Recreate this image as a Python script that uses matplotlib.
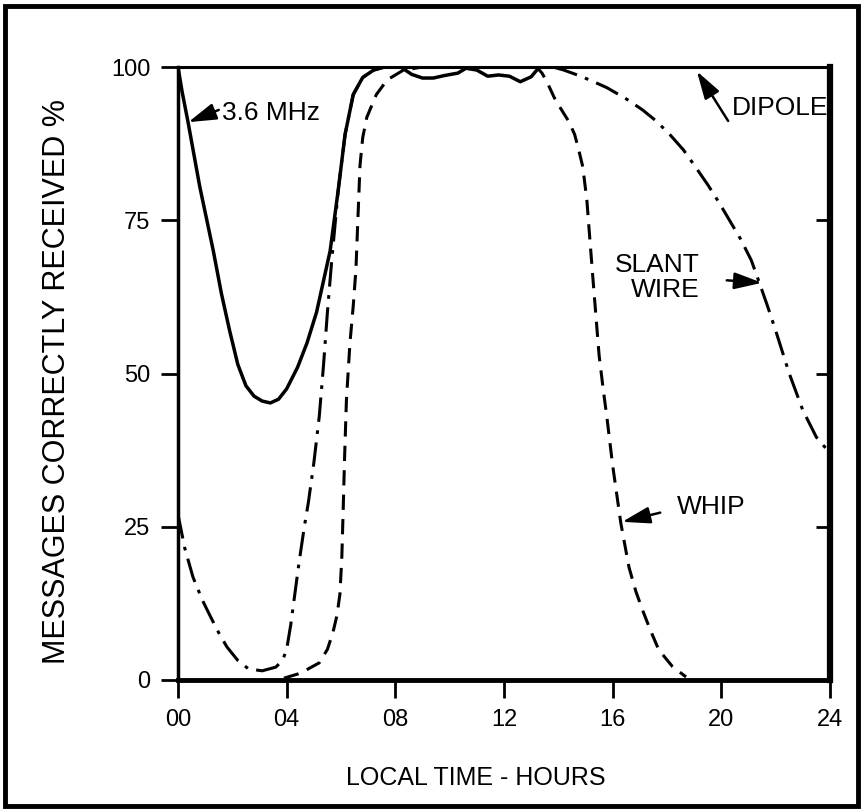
import matplotlib
matplotlib.use("Agg")
import matplotlib.pyplot as plt
from matplotlib.patches import Rectangle

plt.rcParams['font.family'] = ['Liberation Sans', 'DejaVu Sans']

# ---- data (local time in hours, % messages correctly received) ----
dipole_h = [0, 0.15, 0.37, 0.8, 1.3, 1.6, 1.9, 2.2, 2.5, 2.8, 3.1, 3.4, 3.7, 4.0, 4.4,
            4.75, 5.1, 5.35, 5.6, 5.9, 6.15, 6.45, 6.8, 7.2, 7.6, 8.2, 8.6, 9.0, 9.4,
            9.8, 10.3, 10.6, 11.0, 11.4, 11.8, 12.2, 12.6, 13.0, 13.3, 24.0]
dipole_v = [100, 96, 91, 80.5, 70, 63, 57, 51.5, 48, 46.3, 45.5, 45.2, 45.8, 47.5, 51,
            55, 60, 65, 70, 80, 89, 95.5, 98.3, 99.5, 100, 100, 98.8, 98.2, 98.2,
            98.6, 99, 99.8, 99.5, 98.5, 98.7, 98.5, 97.6, 98.4, 100, 100]

slant_h = [0, 0.25, 0.55, 0.9, 1.2, 1.5, 1.8, 2.2, 2.6, 3.1, 3.6, 3.85, 4.0, 4.15, 4.3,
           4.45, 4.65, 4.8, 5.0, 5.2, 5.35, 5.5, 5.65, 5.9, 6.15, 6.45, 6.8, 7.2, 7.6,
           13.8, 14.2, 14.7, 15.2, 15.8, 16.5, 17.1, 17.6, 18.1, 18.6, 19.0, 19.5, 19.9,
           20.3, 20.7, 21.1, 21.4, 21.7, 22.0, 22.5, 23.0, 23.5, 24.0]
slant_v = [27, 21.5, 16.8, 13, 10.3, 7.7, 5.4, 3.2, 1.8, 1.5, 2.1, 3.2, 5, 9, 14,
           19, 25, 29, 35.4, 43, 51, 60, 68, 80, 89, 95.5, 98.3, 99.5, 100,
           100, 99.5, 98.7, 97.8, 96.6, 94.8, 93, 91.2, 89, 86.5, 84, 80.8, 78,
           75, 72, 68.5, 64.8, 61, 57, 50, 44, 39.6, 37]

whip_h = [3.9, 4.5, 5.2, 5.5, 5.7, 5.85, 5.96, 6.03, 6.08, 6.13, 6.2, 6.33, 6.45, 6.55,
          6.62, 6.7, 6.8, 6.95, 7.3, 7.7, 8.3, 9.0, 13.2, 13.4, 13.6, 13.85, 14.05, 14.4,
          14.6, 14.75, 14.9, 15.05, 15.15, 15.3, 15.5, 15.65, 15.8, 16.0, 16.3, 16.6,
          16.85, 17.1, 17.4, 17.7, 18.2, 18.7]
whip_v = [0.3, 1.1, 2.8, 5, 7.7, 10.5, 14, 20, 27.7, 36, 45.7, 55, 61, 67,
          75, 84, 88.5, 91.8, 95.5, 97.9, 99.5, 100, 100, 99, 97.4, 95, 93.5, 91,
          89, 86.5, 83.7, 78.3, 72.5, 64, 53, 47.5, 42.4, 35, 25.6, 18.4,
          14.5, 11.4, 8, 4.9, 2.2, 0.5]

x_ticks = [0, 4, 8, 12, 16, 20, 24]
x_tick_labels = ['00', '04', '08', '12', '16', '20', '24']
y_ticks = [0, 25, 50, 75, 100]

fig = plt.figure(figsize=(8.63, 8.11), dpi=100)
ax = fig.add_axes([178/863, 1 - 680/811, (830-178)/863, (680-67)/811])

lw = 2.2
ax.plot(slant_h, slant_v, color='black', lw=lw, linestyle=(0, (8, 2.8, 1.2, 2.8)), zorder=3)
ax.plot(whip_h, whip_v, color='black', lw=lw, linestyle=(0, (5, 3)), zorder=3)
ax.plot(dipole_h, dipole_v, color='black', lw=2.5, solid_capstyle='round',
        solid_joinstyle='round', zorder=4)

ax.set_xlim(0, 24)
ax.set_ylim(0, 100)
ax.set_xticks(x_ticks)
ax.set_xticklabels(x_tick_labels)
ax.set_yticks(y_ticks)
ax.tick_params(axis='both', width=2, color='black')
ax.tick_params(axis='y', direction='out', length=12, pad=8, labelsize=17)
ax.tick_params(axis='x', direction='out', length=13, pad=8, labelsize=17)

ax2 = ax.twinx()
ax2.set_ylim(0, 100)
ax2.set_yticks([25, 50, 75])
ax2.tick_params(axis='y', direction='in', length=10, width=2, labelright=False)
for s in ax2.spines.values():
    s.set_visible(False)

ax.spines['left'].set_linewidth(2.5)
ax.spines['top'].set_linewidth(2.2)
ax.spines['bottom'].set_linewidth(3.5)
ax.spines['right'].set_linewidth(4.5)

ax.set_xlabel('LOCAL TIME - HOURS', fontsize=18)
ax.xaxis.set_label_coords(0.457, -0.14)
ax.set_ylabel('MESSAGES CORRECTLY RECEIVED %', fontsize=22)
ax.yaxis.set_label_coords(-0.163, 0.487)

arrow = dict(arrowstyle='-|>,head_length=1.0,head_width=0.3', lw=1.8, color='black',
             shrinkA=0, shrinkB=0, mutation_scale=17)
fs = 19
ax.annotate('', xy=(0.38, 91), xytext=(1.5, 93), arrowprops=arrow, annotation_clip=False)
ax.text(1.62, 92.5, '3.6 MHz', fontsize=fs, va='center', ha='left')

ax.annotate('', xy=(19.1, 99.3), xytext=(20.25, 91.2), arrowprops=arrow)
ax.text(20.4, 93.3, 'DIPOLE', fontsize=fs, va='center', ha='left')

ax.annotate('', xy=(21.5, 64.8), xytext=(20.2, 65.2), arrowprops=arrow)
ax.text(19.2, 65.6, 'SLANT\nWIRE', fontsize=fs, va='center', ha='right',
        multialignment='right', linespacing=1.05)

ax.annotate('', xy=(16.35, 25.8), xytext=(17.75, 27.3), arrowprops=arrow)
ax.text(18.37, 28.2, 'WHIP', fontsize=fs, va='center', ha='left')

# outer frame of the figure
fig.patches.append(Rectangle((5/863, 1 - 806/811), (858-5)/863, (806-6)/811,
                             transform=fig.transFigure, fill=False, lw=3.5,
                             edgecolor='black'))

fig.savefig('out.png', dpi=100)
